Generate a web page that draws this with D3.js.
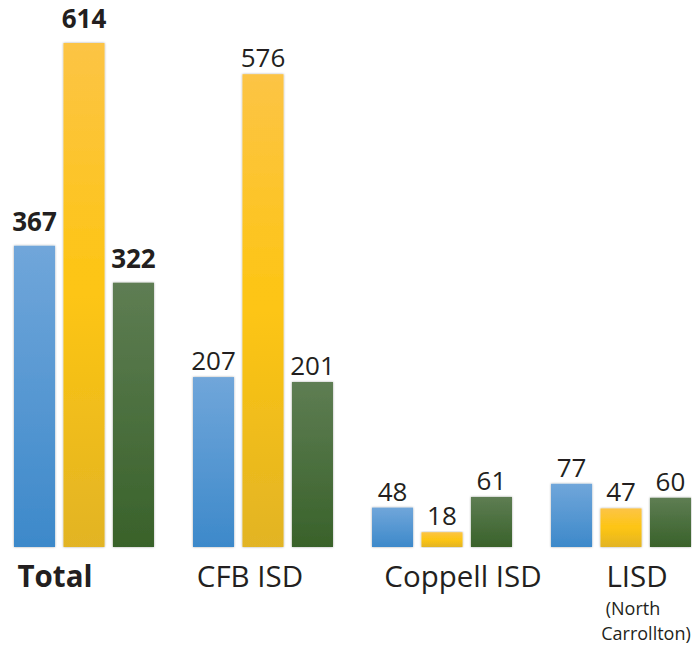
<!DOCTYPE html>
<html>
<head>
<meta charset="utf-8">
<script src="https://cdn.jsdelivr.net/npm/d3@7"></script>
<style>
  body { margin: 0; background: #fff; }
  text { font-family: "Open Sans", sans-serif; fill: #231f20; }
</style>
</head>
<body>
<svg width="692" height="646"></svg>
<script>
var categories = ["Total", "CFB ISD", "Coppell ISD", "LISD"];
var subLabels = ["", "", "", "(North|Carrollton)"];
var seriesKeys = ["blue", "yellow", "green"];
var blueValues = [367, 207, 48, 77];
var yellowValues = [614, 576, 18, 47];
var greenValues = [322, 201, 61, 60];

var svg = d3.select("svg"),
    baseline = 547,
    x0 = d3.scaleBand().domain(categories).range([14, 691]).paddingInner(0.218).paddingOuter(0),
    x1 = d3.scaleBand().domain(seriesKeys).range([0, x0.bandwidth()]).paddingInner(0.17),
    y = d3.scaleLinear().domain([0, 614]).range([baseline, 43]);

var grads = {
  blue: ["#70a6da", "#3d89ca"],
  yellow: ["#fcc445", "#fdc512", "#e2b425"],
  green: ["#5e7d53", "#39622a"]
};

var defs = svg.append("defs");
Object.keys(grads).forEach(function(k) {
  var g = defs.append("linearGradient").attr("id", "g-" + k)
      .attr("x1", 0).attr("y1", 0).attr("x2", 0).attr("y2", 1);
  var stops = grads[k];
  stops.forEach(function(c, i) {
    g.append("stop").attr("offset", i / (stops.length - 1)).attr("stop-color", c);
  });
});
var shadow = defs.append("filter").attr("id", "shadow")
    .attr("x", "-20%").attr("y", "-5%").attr("width", "140%").attr("height", "110%");
shadow.append("feDropShadow").attr("dx", 0).attr("dy", 0).attr("stdDeviation", 1.2)
    .attr("flood-color", "#000").attr("flood-opacity", 0.35);

var rows = categories.map(function(c, i) {
  return {
    cat: c, bold: i === 0,
    bars: [
      {key: "blue", value: blueValues[i]},
      {key: "yellow", value: yellowValues[i]},
      {key: "green", value: greenValues[i]}
    ]
  };
});

var group = svg.selectAll(".group")
  .data(rows)
  .enter().append("g")
    .attr("class", "group")
    .attr("transform", function(d) { return "translate(" + x0(d.cat) + ",0)"; });

var bar = group.selectAll(".bar")
  .data(function(d) { return d.bars.map(function(b) { b.bold = d.bold; return b; }); })
  .enter();

bar.append("rect")
    .attr("x", function(d) { return x1(d.key); })
    .attr("y", function(d) { return y(d.value); })
    .attr("width", x1.bandwidth())
    .attr("height", function(d) { return baseline - y(d.value); })
    .attr("fill", function(d) { return "url(#g-" + d.key + ")"; })
    .attr("filter", "url(#shadow)");

bar.append("text")
    .attr("x", function(d) { return x1(d.key) + x1.bandwidth() / 2; })
    .attr("y", function(d) { return y(d.value) - (d.bold ? 15 : 7); })
    .attr("text-anchor", "middle")
    .style("font-size", "26px")
    .style("font-weight", function(d) { return d.bold ? "bold" : "normal"; })
    .text(function(d) { return d.value; });

// category labels sit a little off the group centres, as in the original
var labelShift = [-29, -13, 21, 16];
group.append("text")
    .attr("x", function(d, i) { return x0.bandwidth() / 2 + labelShift[i]; })
    .attr("y", 587)
    .attr("text-anchor", "middle")
    .style("font-size", "29.5px")
    .style("font-weight", function(d) { return d.bold ? "bold" : "normal"; })
    .text(function(d) { return d.cat; });

group.each(function(d, i) {
  if (!subLabels[i]) return;
  var lines = subLabels[i].split("|");
  d3.select(this).selectAll(".sub")
    .data(lines)
    .enter().append("text")
      .attr("x", function(l, j) { return x0.bandwidth() / 2 + (j === 0 ? 12 : 25); })
      .attr("y", function(l, j) { return 615 + j * 25; })
      .attr("text-anchor", "middle")
      .style("font-size", "18px")
      .text(function(l) { return l; });
});
</script>
</body>
</html>
